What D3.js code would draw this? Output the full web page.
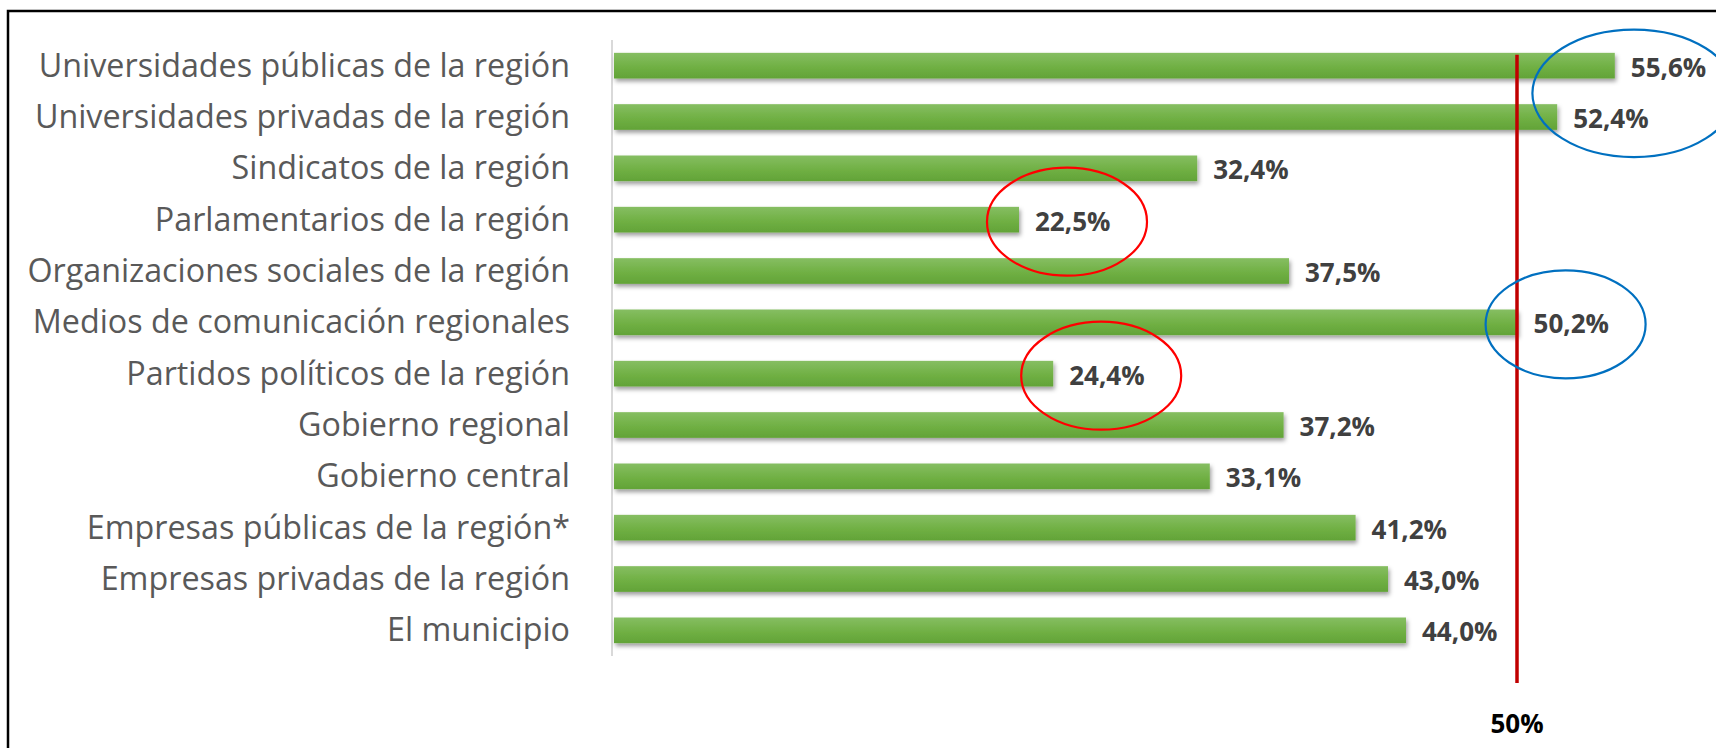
<!DOCTYPE html>
<html>
<head>
<meta charset="utf-8">
<script src="https://cdn.jsdelivr.net/npm/d3@7"></script>
<style>
  body { margin: 0; background: #fff; }
  svg { display: block; }
</style>
</head>
<body>
<svg id="canvas" width="1716" height="748"></svg>
<script>
const categories = [
  'Universidades públicas de la región',
  'Universidades privadas de la región',
  'Sindicatos de la región',
  'Parlamentarios de la región',
  'Organizaciones sociales de la región',
  'Medios de comunicación regionales',
  'Partidos políticos de la región',
  'Gobierno regional',
  'Gobierno central',
  'Empresas públicas de la región*',
  'Empresas privadas de la región',
  'El municipio'
];
const values = [55.6, 52.4, 32.4, 22.5, 37.5, 50.2, 24.4, 37.2, 33.1, 41.2, 43.0, 44.0];
const threshold = 50;
const thresholdLabel = '50%';

// circled rows in the original
const blueGroups = [[0, 1], [5]];
const redGroups = [[3], [6]];

const svg = d3.select('#canvas');

const x = d3.scaleLinear().domain([0, 100]).range([614, 614 + 1800]);
const y = d3
  .scaleBand()
  .domain(categories)
  .range([40, 656])
  .paddingInner(0.5)
  .paddingOuter(0.25);

const fmt = (v) => d3.format('.1f')(v).replace('.', ',') + '%';

const defs = svg.append('defs');
const grad = defs
  .append('linearGradient')
  .attr('id', 'barGrad')
  .attr('x1', 0).attr('y1', 0).attr('x2', 0).attr('y2', 1);
grad.append('stop').attr('offset', '0%').attr('stop-color', '#86be62');
grad.append('stop').attr('offset', '55%').attr('stop-color', '#70b044');
grad.append('stop').attr('offset', '100%').attr('stop-color', '#62a337');

const shadow = defs
  .append('filter')
  .attr('id', 'shadow')
  .attr('x', '-5%').attr('y', '-30%')
  .attr('width', '110%').attr('height', '190%');
shadow
  .append('feDropShadow')
  .attr('dx', 1.5)
  .attr('dy', 3)
  .attr('stdDeviation', 2)
  .attr('flood-color', '#000')
  .attr('flood-opacity', 0.38);

// frame
svg
  .append('rect')
  .attr('x', 8)
  .attr('y', 11)
  .attr('width', 1800)
  .attr('height', 800)
  .attr('fill', 'none')
  .attr('stroke', '#000')
  .attr('stroke-width', 2.5);

// category axis line
svg
  .append('line')
  .attr('x1', x(0) - 2).attr('x2', x(0) - 2)
  .attr('y1', y.range()[0]).attr('y2', y.range()[1])
  .attr('stroke', '#d9d9d9')
  .attr('stroke-width', 2);

// bars
svg
  .selectAll('.bar')
  .data(values)
  .enter()
  .append('rect')
  .attr('class', 'bar')
  .attr('x', x(0))
  .attr('y', (d, i) => y(categories[i]))
  .attr('width', (d) => x(d) - x(0))
  .attr('height', y.bandwidth())
  .attr('fill', 'url(#barGrad)')
  .attr('filter', 'url(#shadow)');

// category labels
const catLabels = svg
  .selectAll('.cat')
  .data(categories)
  .enter()
  .append('text')
  .attr('class', 'cat')
  .attr('x', 570)
  .attr('y', (d) => y(d) + y.bandwidth() / 2 + 11)
  .attr('text-anchor', 'end')
  .attr('font-family', 'Open Sans, sans-serif')
  .attr('font-size', 26)
  .attr('fill', '#595959')
  .text((d) => d);

// fit the label font to the original label width
const widest = d3.max(catLabels.nodes(), (n) => n.getComputedTextLength());
catLabels.attr('font-size', 26 * 543 / widest);

// value labels
svg
  .selectAll('.val')
  .data(values)
  .enter()
  .append('text')
  .attr('class', 'val')
  .attr('x', (d) => x(d) + 16)
  .attr('y', (d, i) => y(categories[i]) + y.bandwidth() / 2 + 11)
  .attr('font-family', 'Open Sans, sans-serif')
  .attr('font-weight', 'bold')
  .attr('font-size', 26)
  .attr('fill', '#404040')
  .text((d) => fmt(d));

// 50% reference line
svg
  .append('line')
  .attr('x1', x(threshold) + 3).attr('x2', x(threshold) + 3)
  .attr('y1', y(categories[0]) + 2)
  .attr('y2', 683)
  .attr('stroke', '#c00000')
  .attr('stroke-width', 3.5);

svg
  .append('text')
  .attr('x', x(threshold) + 3)
  .attr('y', 733)
  .attr('text-anchor', 'middle')
  .attr('font-family', 'Open Sans, sans-serif')
  .attr('font-weight', 'bold')
  .attr('font-size', 26)
  .attr('fill', '#000')
  .text(thresholdLabel);

// annotation ellipses around value labels
const drawRings = (groups, color, rx, ry) => {
  svg
    .selectAll(null)
    .data(groups)
    .enter()
    .append('ellipse')
    .attr('cx', (g) => d3.mean(g, (i) => x(values[i]) + 48))
    .attr('cy', (g) => d3.mean(g, (i) => y(categories[i]) + y.bandwidth() / 2) + 2)
    .attr('rx', (g) => (g.length > 1 ? rx * 1.27 : rx))
    .attr('ry', (g) => (g.length > 1 ? ry * 1.18 : ry))
    .attr('fill', 'none')
    .attr('stroke', color)
    .attr('stroke-width', 2.2);
};

drawRings(blueGroups, '#0070c0', 80, 54);
drawRings(redGroups, '#ff0000', 80, 54);
</script>
</body>
</html>
